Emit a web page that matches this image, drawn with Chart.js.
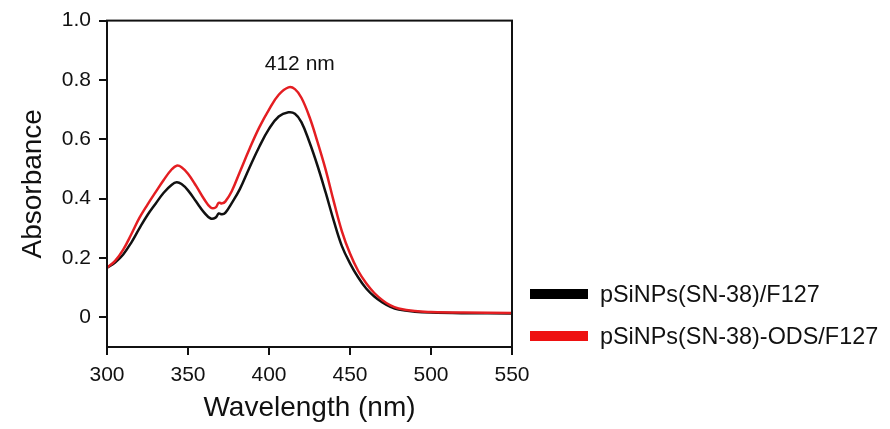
<!DOCTYPE html>
<html>
<head>
<meta charset="utf-8">
<script src="https://cdn.jsdelivr.net/npm/chart.js@4"></script>
<style>
  html, body { margin: 0; padding: 0; background: #fff; }
  #wrap { position: relative; width: 890px; height: 429px; }
  canvas { position: absolute; left: 0; top: 0; }
  .leg { position: absolute; left: 530px; height: 30px; display: flex; align-items: center;
         font-family: "Liberation Sans", Arial, sans-serif; font-size: 23.4px; color: #111; white-space: nowrap; }
  .leg span.box { display: inline-block; width: 58px; height: 10px; margin-right: 12px; }
</style>
</head>
<body>
<div id="wrap">
  <canvas id="chart-uv" width="890" height="429"></canvas>
  <div class="leg" style="top:279px"><span class="box" style="background:#000"></span>pSiNPs(SN-38)/F127</div>
  <div class="leg" style="top:321px"><span class="box" style="background:#ee1111"></span>pSiNPs(SN-38)-ODS/F127</div>
</div>
<script>
// dados
const wavelengths = [300, 305, 310, 315, 320, 325, 330, 335, 340, 343, 346, 350, 355, 360, 364, 367, 369, 371, 373, 377, 382, 388, 394, 400, 406, 412, 416, 420, 425, 430, 435, 440, 445, 450, 455, 460, 465, 470, 475, 480, 490, 500, 520, 550];
const absPlain = [0.167, 0.185, 0.212, 0.252, 0.300, 0.345, 0.383, 0.420, 0.447, 0.455, 0.449, 0.428, 0.390, 0.353, 0.333, 0.336, 0.350, 0.347, 0.352, 0.385, 0.432, 0.505, 0.575, 0.635, 0.677, 0.691, 0.686, 0.658, 0.590, 0.510, 0.420, 0.325, 0.240, 0.182, 0.135, 0.097, 0.070, 0.050, 0.035, 0.026, 0.019, 0.016, 0.014, 0.013];
const absODS = [0.167, 0.190, 0.228, 0.280, 0.335, 0.380, 0.422, 0.463, 0.499, 0.511, 0.506, 0.484, 0.443, 0.398, 0.370, 0.370, 0.386, 0.384, 0.390, 0.425, 0.490, 0.568, 0.640, 0.700, 0.750, 0.775, 0.769, 0.740, 0.675, 0.590, 0.497, 0.390, 0.290, 0.215, 0.157, 0.115, 0.082, 0.058, 0.040, 0.030, 0.021, 0.018, 0.016, 0.015];
const xTicks = [300, 350, 400, 450, 500, 550];
const yTicks = [0, 0.2, 0.4, 0.6, 0.8, 1.0];
const seriesLabels = ['pSiNPs(SN-38)/F127', 'pSiNPs(SN-38)-ODS/F127'];
const peakLabel = '412 nm';

const FONT = '"Liberation Sans", Arial, sans-serif';

const toPoints = (ys) => ys.map((y, i) => ({ x: wavelengths[i], y: y }));

// moldura em volta da área do gráfico + texto do pico
const framePlugin = {
  id: 'frame',
  afterDraw(chart) {
    const { ctx, chartArea: a, scales } = chart;
    ctx.save();
    ctx.strokeStyle = '#111';
    ctx.lineWidth = 2;
    ctx.strokeRect(a.left, a.top, a.right - a.left, a.bottom - a.top);
    ctx.fillStyle = '#111';
    ctx.font = '21px ' + FONT;
    ctx.textAlign = 'center';
    ctx.textBaseline = 'middle';
    ctx.fillText(peakLabel, scales.x.getPixelForValue(419), scales.y.getPixelForValue(0.853));
    ctx.restore();
  }
};

new Chart(document.getElementById('chart-uv'), {
  type: 'line',
  data: {
    datasets: [
      { label: seriesLabels[0], data: toPoints(absPlain), borderColor: '#111', borderWidth: 2.5, order: 1 },
      { label: seriesLabels[1], data: toPoints(absODS), borderColor: '#e41e22', borderWidth: 2.5, order: 0 }
    ]
  },
  options: {
    responsive: false,
    animation: false,
    layout: { padding: { left: 12, top: 19, right: 378, bottom: 0 } },
    elements: { point: { radius: 0 }, line: { tension: 0.4 } },
    plugins: { legend: { display: false }, tooltip: { enabled: false } },
    scales: {
      x: {
        type: 'linear', min: 300, max: 550,
        afterBuildTicks: (s) => { s.ticks = xTicks.map(v => ({ value: v })); },
        afterFit: (s) => { s.height = 82; },
        grid: { drawOnChartArea: false, tickLength: 8, color: '#111', lineWidth: 2 },
        border: { color: '#111', width: 2 },
        ticks: { color: '#111', font: { family: FONT, size: 21 }, padding: 8, maxRotation: 0 },
        title: { display: true, text: 'Wavelength (nm)', color: '#111', font: { family: FONT, size: 28 } }
      },
      y: {
        min: -0.1, max: 1.0,
        afterBuildTicks: (s) => { s.ticks = yTicks.map(v => ({ value: v })); },
        afterFit: (s) => { s.width = 95; },
        grid: { drawOnChartArea: false, tickLength: 8, color: '#111', lineWidth: 2 },
        border: { color: '#111', width: 2 },
        ticks: { color: '#111', font: { family: FONT, size: 21 }, padding: 8,
                 callback: (v) => v === 0 ? '0' : v.toFixed(1) },
        title: { display: true, text: 'Absorbance', color: '#111', font: { family: FONT, size: 28 } }
      }
    }
  },
  plugins: [framePlugin]
});
</script>
</body>
</html>
